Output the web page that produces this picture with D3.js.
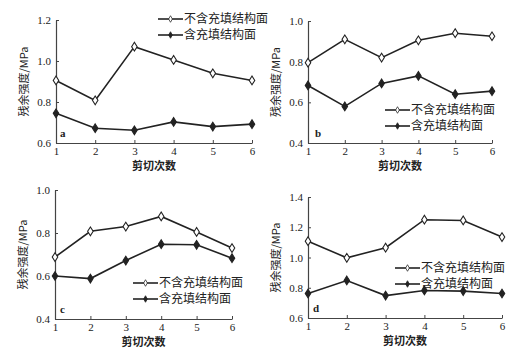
<!DOCTYPE html>
<html>
<head>
<meta charset="utf-8">
<script src="https://cdn.jsdelivr.net/npm/d3@7"></script>
<style>
body { margin: 0; background: #fff; }
svg text { fill: #222; }
</style>
</head>
<body>
<svg id="chart" width="514" height="351"></svg>
<script>
// données
const shearCounts = [1, 2, 3, 4, 5, 6];
const seriesNames = ["不含充填结构面", "含充填结构面"];
const aUnfilled = [0.905, 0.808, 1.07, 1.005, 0.94, 0.905];
const aFilled = [0.745, 0.672, 0.662, 0.703, 0.68, 0.692];
const bUnfilled = [0.795, 0.91, 0.82, 0.905, 0.94, 0.925];
const bFilled = [0.683, 0.58, 0.693, 0.73, 0.64, 0.655];
const cUnfilled = [0.688, 0.808, 0.83, 0.877, 0.805, 0.73];
const cFilled = [0.6, 0.588, 0.672, 0.748, 0.745, 0.683];
const dUnfilled = [1.108, 0.998, 1.065, 1.25, 1.245, 1.135];
const dFilled = [0.762, 0.848, 0.748, 0.782, 0.778, 0.762];
const aTicks = [0.6, 0.8, 1.0, 1.2];
const bTicks = [0.4, 0.6, 0.8, 1.0];
const cTicks = [0.4, 0.6, 0.8, 1.0];
const dTicks = [0.6, 0.8, 1.0, 1.2, 1.4];

const svg = d3.select("#chart");
const ink = "#222";

const panels = [
    { tag: "a", unfilled: aUnfilled, filled: aFilled, ticks: aTicks,
      box: { l: 56, r: 252, t: 20, b: 143 }, legend: { x: 158, y: 19 }, tagPos: [60, 137] },
    { tag: "b", unfilled: bUnfilled, filled: bFilled, ticks: bTicks,
      box: { l: 308, r: 492, t: 21, b: 143 }, legend: { x: 385, y: 110 }, tagPos: [315, 137] },
    { tag: "c", unfilled: cUnfilled, filled: cFilled, ticks: cTicks,
      box: { l: 55, r: 232, t: 190, b: 319 }, legend: { x: 133, y: 283 }, tagPos: [60, 313] },
    { tag: "d", unfilled: dUnfilled, filled: dFilled, ticks: dTicks,
      box: { l: 308, r: 502, t: 197, b: 318 }, legend: { x: 395, y: 268 }, tagPos: [313, 312] }
];

const diamond = d3.symbol().type(d3.symbolDiamond).size(22);

function drawSeries(g, x, y, values, open) {
    g.append("path")
        .datum(values)
        .attr("fill", "none")
        .attr("stroke", ink)
        .attr("stroke-width", 1.6)
        .attr("d", d3.line().x((d, i) => x(shearCounts[i])).y(d => y(d)));
    g.selectAll(null)
        .data(values)
        .join("path")
        .attr("d", diamond)
        .attr("transform", (d, i) => `translate(${x(shearCounts[i])},${y(d)}) scale(1.1,1)`)
        .attr("fill", open ? "#fff" : ink)
        .attr("stroke", ink)
        .attr("stroke-width", 1);
}

panels.forEach(p => {
    const { l, r, t, b } = p.box;
    const x = d3.scaleLinear().domain([1, 6]).range([l, r]);
    const y = d3.scaleLinear().domain(d3.extent(p.ticks)).range([b, t]);
    const g = svg.append("g");

    // axes
    const xa = g.append("g")
        .attr("transform", `translate(0,${b})`)
        .call(d3.axisBottom(x).tickValues(shearCounts).tickFormat(d3.format("d")).tickSizeInner(-3).tickSizeOuter(0).tickPadding(4));
    const ya = g.append("g")
        .attr("transform", `translate(${l},0)`)
        .call(d3.axisLeft(y).tickValues(p.ticks).tickFormat(d3.format(".1f")).tickSizeInner(-3).tickSizeOuter(0).tickPadding(5));
    [xa, ya].forEach(a => {
        a.select(".domain").attr("stroke", "#444").attr("stroke-width", 1.2);
        a.selectAll(".tick line").attr("stroke", "#444");
        a.selectAll("text")
            .style("font-family", "'Liberation Serif', 'DejaVu Serif', serif")
            .style("font-size", "11px")
            .attr("fill", ink);
    });

    // titres des axes
    g.append("text")
        .attr("x", (l + r) / 2)
        .attr("y", b + 27)
        .attr("text-anchor", "middle")
        .style("font-family", "'Noto Sans CJK SC', sans-serif")
        .style("font-size", "11px")
        .style("font-weight", "bold")
        .text("剪切次数");
    g.append("text")
        .attr("transform", `translate(${l - 28},${(t + b) / 2}) rotate(-90)`)
        .attr("text-anchor", "middle")
        .style("font-family", "'Noto Sans CJK SC', sans-serif")
        .style("font-size", "11px")
        .text("残余强度/MPa");

    g.append("text")
        .attr("x", p.tagPos[0])
        .attr("y", p.tagPos[1])
        .style("font-family", "'Liberation Serif', serif")
        .style("font-size", "11px")
        .style("font-weight", "bold")
        .text(p.tag);

    drawSeries(g, x, y, p.unfilled, true);
    drawSeries(g, x, y, p.filled, false);

    // légende
    seriesNames.forEach((name, i) => {
        const ly = p.legend.y + i * 16;
        const lg = g.append("g");
        lg.append("line")
            .attr("x1", p.legend.x).attr("x2", p.legend.x + 25)
            .attr("y1", ly).attr("y2", ly)
            .attr("stroke", ink).attr("stroke-width", 1.6);
        lg.append("path")
            .attr("d", diamond)
            .attr("transform", `translate(${p.legend.x + 12.5},${ly}) scale(0.75,0.75)`)
            .attr("fill", i === 0 ? "#fff" : ink)
            .attr("stroke", ink);
        lg.append("text")
            .attr("x", p.legend.x + 26)
            .attr("y", ly + 4)
            .style("font-family", "'Noto Sans CJK SC', sans-serif")
            .style("font-size", "12px")
            .text(name);
    });
});
</script>
</body>
</html>
